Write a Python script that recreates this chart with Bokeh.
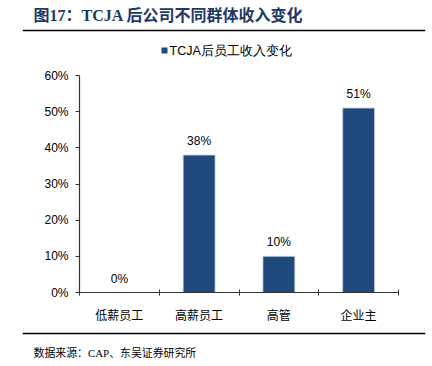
from bokeh.plotting import figure
from bokeh.layouts import column
from bokeh.models import (ColumnDataSource, FixedTicker, NumeralTickFormatter, Range1d, Span)
from bokeh.core.properties import value
from bokeh.embed import file_html
from bokeh.resources import INLINE

# ---- data ----
categories = ["低薪员工", "高薪员工", "高管", "企业主"]
income_change = [0.00, 0.38, 0.10, 0.51]
y_ticks = [0.0, 0.1, 0.2, 0.3, 0.4, 0.5, 0.6]
series_name = "TCJA后员工收入变化"
title_text = "图17：TCJA 后公司不同群体收入变化"
source_text = "数据来源：CAP、东吴证券研究所"

BAR = "#1F497D"
W = 432
HEAD_H, MAIN_H, FOOT_H = 63, 265, 38
RULE_L, RULE_R = 22, 425
SERIF = "Liberation Serif, Noto Sans CJK SC"


def strip(h):
    # frame spans exactly the width of the horizontal rules; x data = canvas px
    f = figure(width=W, height=h, output_backend="svg", toolbar_location=None,
               x_range=Range1d(RULE_L, RULE_R), y_range=Range1d(0, h),
               x_axis_location=None, y_axis_location=None,
               min_border_left=RULE_L, min_border_right=W - RULE_R,
               min_border_top=0, min_border_bottom=0, frame_align=False)
    f.grid.visible = False
    f.outline_line_color = None
    return f


def rule(f, h, y):
    f.add_layout(Span(location=h - y, dimension="width", line_color="#000000",
                      line_width=1.6))


# ---- header: title, top rule, legend ----
head = strip(HEAD_H)
head.text(x=[33], y=[HEAD_H - 14.5], text=[title_text], text_font=value(SERIF),
          text_font_style="bold", text_font_size="16px", text_color="#1F3864",
          text_baseline="middle", text_align="left")
rule(head, HEAD_H, 30)
head.rect(x=[164], y=[HEAD_H - 50], width=6, height=6, fill_color=BAR, line_color=None)
head.text(x=[169], y=[HEAD_H - 50], text=[series_name], text_font=value("Liberation Sans"),
          text_font_size="12.5px", text_color="#000000", text_baseline="middle",
          text_align="left")

# ---- main chart ----
p = figure(width=W, height=MAIN_H, output_backend="svg", toolbar_location=None,
           x_range=Range1d(0, len(categories)), y_range=Range1d(0, 0.6),
           min_border_left=79, min_border_right=34, min_border_top=12,
           min_border_bottom=MAIN_H - 12 - 217, frame_align=False)
p.outline_line_color = None
p.grid.visible = False

xc = [i + 0.5 for i in range(len(categories))]
src = ColumnDataSource(dict(x=xc, top=income_change,
                            lab=[f"{round(v*100)}%" for v in income_change]))
p.vbar(x="x", top="top", width=0.4, source=src, fill_color=BAR,
       line_color="#C3D0E3", line_width=0.8)
p.text(x="x", y="top", text="lab", source=src, text_align="center",
       text_baseline="bottom", y_offset=-7, text_font=value("Liberation Sans"),
       text_font_size="12px", text_color="#000000")

xa = p.xaxis[0]
xa.ticker = FixedTicker(ticks=xc, minor_ticks=list(range(len(categories) + 1)))
xa.major_label_overrides = {x: c for x, c in zip(xc, categories)}
xa.major_tick_in = 0
xa.major_tick_out = 0
xa.minor_tick_in = 3
xa.minor_tick_out = 3
xa.minor_tick_line_color = "#333333"
xa.axis_line_color = "#333333"
xa.axis_line_width = 1.2
xa.major_label_text_font = "Noto Sans CJK SC"
xa.major_label_text_font_size = "12px"
xa.major_label_text_color = "#000000"
xa.major_label_standoff = 10

ya = p.yaxis[0]
ya.ticker = FixedTicker(ticks=y_ticks)
ya.formatter = NumeralTickFormatter(format="0%")
ya.major_tick_in = 0
ya.major_tick_out = 4
ya.minor_tick_line_color = None
ya.axis_line_color = "#333333"
ya.major_tick_line_color = "#333333"
ya.axis_line_width = 1.2
ya.major_label_text_font = "Liberation Sans"
ya.major_label_text_font_size = "12px"
ya.major_label_text_color = "#000000"
ya.major_label_standoff = 7

# ---- footer: bottom rule, source ----
foot = strip(FOOT_H)
rule(foot, FOOT_H, 5)
foot.text(x=[33], y=[FOOT_H - 24], text=[source_text], text_font=value(SERIF),
          text_font_size="10.9px", text_color="#000000", text_baseline="middle",
          text_align="left")

layout = column(head, p, foot, spacing=0)
open("out.html", "w").write(file_html(layout, INLINE))
